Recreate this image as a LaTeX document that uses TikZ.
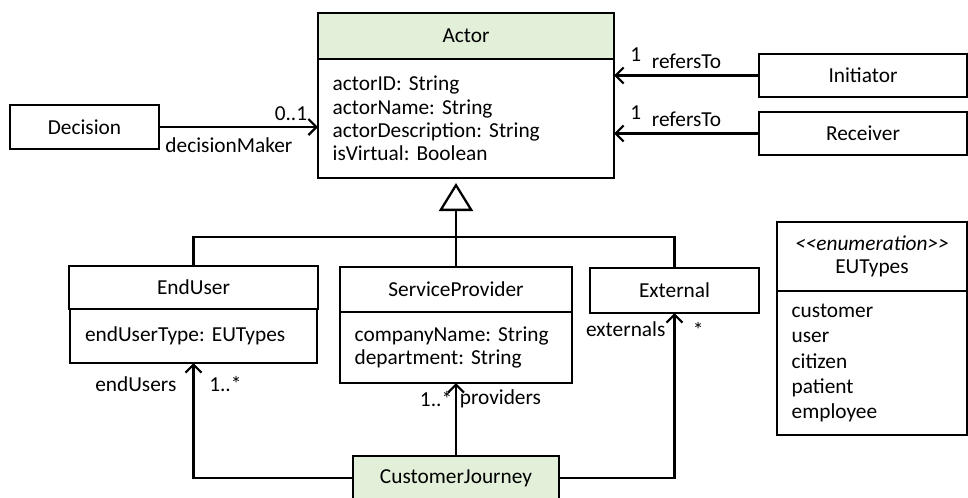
\documentclass[tikz,border=0pt]{standalone}
\usepackage{fontspec}
\setmainfont{Carlito}
\usetikzlibrary{positioning,arrows.meta}
\definecolor{hdrgreen}{HTML}{E2EFD9}
\frenchspacing

\begin{document}
\begin{tikzpicture}[x=0.75pt,y=-0.75pt,>={Straight Barb[length=6pt,width=12pt]},
  font=\fontsize{16}{17.6}\selectfont,
  umlbox/.style 2 args={draw,line width=1.7pt,outer sep=0pt,inner sep=2pt,
    minimum width=#1,minimum height=#2},
  attrbox/.style 2 args={draw,line width=1.7pt,outer sep=0pt,inner xsep=11pt,inner ysep=0pt,
    align=left,text width=#1,minimum height=#2},
  assoc/.style={line width=1.7pt,->},
  lbl/.style={inner sep=2pt}]
\useasboundingbox (0,0) rectangle (968,497);

% central class
\node[umlbox={222pt}{34.5pt},fill=hdrgreen] (actor) at (466,36) {Actor};
\node[attrbox={200pt}{89.25pt}] (actorB) [below=0pt of actor]
  {actorID: String\\actorName: String\\actorDescription: String\\isVirtual: Boolean};

\node[umlbox={111.75pt}{33pt}] (decision) at (84.5,127) {Decision};
\node[umlbox={156pt}{32.25pt}] (initiator) at (863,75.5) {Initiator};
\node[umlbox={156pt}{32.25pt}] (receiver) at (863,133.5) {Receiver};

% subclasses
\node[umlbox={186.75pt}{32.25pt}] (endUser) at (193.5,287.5) {EndUser};
\node[attrbox={162.75pt}{40.5pt}] (endUserB) [below=0pt of endUser] {endUserType: EUTypes};
\node[umlbox={174pt}{33.75pt}] (provider) at (456,289.5) {ServiceProvider};
\node[attrbox={152pt}{53.25pt}] (providerB) [below=0pt of provider]
  {companyName: String\\department: String};
\node[umlbox={126.75pt}{33.75pt}] (external) at (674.5,290.5) {External};

% enumeration
\node[umlbox={142.5pt}{51.75pt},align=center] (euTypes) at (872,256.5)
  {\textit{<\kern0pt<enumeration>\kern0pt>}\\EUTypes};
\node[attrbox={120.5pt}{108pt},font=\fontsize{16}{18.9}\selectfont] (euTypesB) [below=0pt of euTypes]
  {customer\\user\\citizen\\patient\\employee};

\node[umlbox={154.5pt}{33pt},fill=hdrgreen] (journey) at (456,478) {CustomerJourney};

% generalisation
\coordinate (bus) at (456,237);
\draw[line width=1.7pt] (endUser.north) |- (bus) -| (external.north);
\draw[line width=1.7pt] (provider.north) -- (bus);
\draw[line width=1.7pt,-{Triangle[open,length=21pt,width=25.5pt]}]
  (bus) -- ([yshift=-3.75pt]bus |- actorB.south);

% associations
\draw[assoc] (decision.east) -- (decision.east -| actorB.west)
  node[lbl,pos=0.83,above,yshift=2pt] {0..1}
  node[lbl,pos=0.44,below,yshift=-5pt] {decisionMaker};
\draw[assoc] (initiator.west) -- (initiator.west -| actorB.east)
  node[lbl,pos=0.5,above,yshift=2pt] {refersTo}
  node[lbl,pos=0.85,above,yshift=8pt] {1};
\draw[assoc] (receiver.west) -- (receiver.west -| actorB.east)
  node[lbl,pos=0.5,above,yshift=2pt] {refersTo}
  node[lbl,pos=0.85,above,yshift=8pt] {1};
\draw[assoc] (journey.west) -| (endUserB.south)
  node[lbl,pos=0.91,left,xshift=-10pt] {endUsers}
  node[lbl,pos=0.91,right,xshift=9pt] {1..*};
\draw[assoc] (journey.north) -- (providerB.south)
  node[lbl,pos=0.78,left] {1..*}
  node[lbl,pos=0.78,right] {providers};
\draw[assoc] (journey.east) -| (external.south)
  node[lbl,pos=0.95,left,xshift=-4pt] {externals}
  node[lbl,pos=0.95,right,xshift=11pt] {*};
\end{tikzpicture}
\end{document}
